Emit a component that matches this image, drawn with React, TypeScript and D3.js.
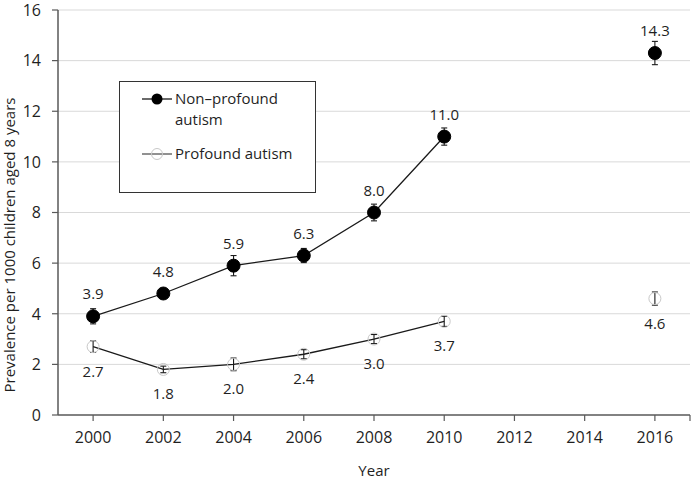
import React, { useEffect, useRef } from "react";
import * as d3 from "d3";

const years = ["2000", "2002", "2004", "2006", "2008", "2010", "2012", "2014", "2016"];
const yTicks = [0, 2, 4, 6, 8, 10, 12, 14, 16];

const nonProfound = [3.9, 4.8, 5.9, 6.3, 8.0, 11.0, null, null, 14.3];
const nonProfoundErr = [0.3, 0.2, 0.4, 0.28, 0.33, 0.34, null, null, 0.46];
const profound = [2.7, 1.8, 2.0, 2.4, 3.0, 3.7, null, null, 4.6];
const profoundErr = [0.23, 0.13, 0.25, 0.18, 0.18, 0.2, null, null, 0.26];

const FONT = "'Open Sans', sans-serif";
const TEXT = "#1f1f1f";

const App = () => {
  const svgRef = useRef<SVGSVGElement | null>(null);

  useEffect(() => {
    const width = 694;
    const height = 482;
    const margin = { top: 10, right: 4, bottom: 67, left: 58 };

    const svg = d3.select(svgRef.current).attr("width", width).attr("height", height);
    svg.selectAll("*").remove();

    const x = d3
      .scaleBand()
      .domain(years)
      .range([margin.left, width - margin.right])
      .padding(0);
    const cx = (d: string) => (x(d) || 0) + x.bandwidth() / 2;

    const y = d3
      .scaleLinear()
      .domain([0, 16])
      .range([height - margin.bottom, margin.top]);

    const x0 = margin.left;
    const x1 = width - margin.right;
    const yBase = y(0);

    // gridlines
    svg
      .append("g")
      .selectAll("line")
      .data(yTicks.filter((t) => t > 0))
      .enter()
      .append("line")
      .attr("x1", x0)
      .attr("x2", x1)
      .attr("y1", (d) => y(d))
      .attr("y2", (d) => y(d))
      .attr("stroke", "#d9d9d9")
      .attr("stroke-width", 1);

    // y axis
    const yAxis = svg.append("g");
    yAxis
      .append("line")
      .attr("x1", x0)
      .attr("x2", x0)
      .attr("y1", y(16))
      .attr("y2", yBase)
      .attr("stroke", "#595959")
      .attr("stroke-width", 1.5);
    yAxis
      .selectAll("line.tick")
      .data(yTicks)
      .enter()
      .append("line")
      .attr("class", "tick")
      .attr("x1", x0 - 6)
      .attr("x2", x0)
      .attr("y1", (d) => y(d))
      .attr("y2", (d) => y(d))
      .attr("stroke", "#595959")
      .attr("stroke-width", 1.2);
    yAxis
      .selectAll("text")
      .data(yTicks)
      .enter()
      .append("text")
      .attr("x", 41)
      .attr("y", (d) => y(d))
      .attr("dy", "0.36em")
      .attr("text-anchor", "end")
      .attr("font-family", FONT)
      .attr("font-size", 16)
      .attr("fill", TEXT)
      .text((d) => d);

    // x axis
    const xAxis = svg.append("g");
    xAxis
      .append("line")
      .attr("x1", x0)
      .attr("x2", x1)
      .attr("y1", yBase)
      .attr("y2", yBase)
      .attr("stroke", "#595959")
      .attr("stroke-width", 1.5);
    xAxis
      .selectAll("line.tick")
      .data([...years.map(cx), x1])
      .enter()
      .append("line")
      .attr("class", "tick")
      .attr("x1", (d) => d)
      .attr("x2", (d) => d)
      .attr("y1", yBase)
      .attr("y2", yBase + 6)
      .attr("stroke", "#595959")
      .attr("stroke-width", 1.2);
    xAxis
      .selectAll("text")
      .data(years)
      .enter()
      .append("text")
      .attr("x", (d) => cx(d))
      .attr("y", 443)
      .attr("text-anchor", "middle")
      .attr("font-family", FONT)
      .attr("font-size", 16)
      .attr("fill", TEXT)
      .text((d) => d);

    // axis titles
    svg
      .append("text")
      .attr("x", (x0 + x1) / 2)
      .attr("y", 476)
      .attr("text-anchor", "middle")
      .attr("font-family", FONT)
      .attr("font-size", 15)
      .attr("fill", TEXT)
      .text("Year");
    svg
      .append("text")
      .attr("transform", `translate(15,245) rotate(-90)`)
      .attr("text-anchor", "middle")
      .attr("font-family", FONT)
      .attr("font-size", 15)
      .attr("fill", TEXT)
      .text("Prevalence per 1000 children aged 8 years");

    const series = [
      { values: profound, err: profoundErr, filled: false, labelDy: 30 },
      { values: nonProfound, err: nonProfoundErr, filled: true, labelDy: -17 },
    ];

    series.forEach((s) => {
      const pts = years.map((yr, i) => ({ yr, v: s.values[i], e: s.err[i] }));
      const valid = pts.filter((p) => p.v != null) as { yr: string; v: number; e: number }[];

      const line = d3
        .line<{ yr: string; v: number | null }>()
        .defined((d) => d.v != null)
        .x((d) => cx(d.yr))
        .y((d) => y(d.v as number));

      svg
        .append("path")
        .datum(pts)
        .attr("d", line)
        .attr("fill", "none")
        .attr("stroke", "#1a1a1a")
        .attr("stroke-width", 1.3);

      const eb = svg.append("g").attr("stroke", "#1a1a1a").attr("stroke-width", 1.1);
      valid.forEach((p) => {
        const px = cx(p.yr);
        eb.append("line")
          .attr("x1", px)
          .attr("x2", px)
          .attr("y1", y(p.v - p.e))
          .attr("y2", y(p.v + p.e));
        [p.v - p.e, p.v + p.e].forEach((v) => {
          eb.append("line")
            .attr("x1", px - 3)
            .attr("x2", px + 3)
            .attr("y1", y(v))
            .attr("y2", y(v));
        });
      });

      svg
        .append("g")
        .selectAll("circle")
        .data(valid)
        .enter()
        .append("circle")
        .attr("cx", (d) => cx(d.yr))
        .attr("cy", (d) => y(d.v))
        .attr("r", s.filled ? 6.5 : 6)
        .attr("fill", s.filled ? "#000" : "none")
        .attr("stroke", s.filled ? "#000" : "#c8c8c8")
        .attr("stroke-width", 1);

      svg
        .append("g")
        .selectAll("text")
        .data(valid)
        .enter()
        .append("text")
        .attr("x", (d) => cx(d.yr))
        .attr("y", (d) => y(d.v) + s.labelDy)
        .attr("text-anchor", "middle")
        .attr("font-family", FONT)
        .attr("font-size", 15)
        .attr("fill", TEXT)
        .text((d) => d.v.toFixed(1));
    });

    // legend
    const lg = svg.append("g");
    lg.append("rect")
      .attr("x", 119.5)
      .attr("y", 81.5)
      .attr("width", 196)
      .attr("height", 111)
      .attr("fill", "#fff")
      .attr("stroke", "#333")
      .attr("stroke-width", 1);
    lg.append("line")
      .attr("x1", 142)
      .attr("x2", 172)
      .attr("y1", 99)
      .attr("y2", 99)
      .attr("stroke", "#1a1a1a")
      .attr("stroke-width", 1.3);
    lg.append("circle").attr("cx", 157).attr("cy", 99).attr("r", 5.5).attr("fill", "#000");
    lg.append("line")
      .attr("x1", 142)
      .attr("x2", 172)
      .attr("y1", 154)
      .attr("y2", 154)
      .attr("stroke", "#555")
      .attr("stroke-width", 1.3);
    lg.append("circle")
      .attr("cx", 157)
      .attr("cy", 154)
      .attr("r", 5.5)
      .attr("fill", "none")
      .attr("stroke", "#c8c8c8");
    const lt = lg
      .append("g")
      .attr("font-family", FONT)
      .attr("font-size", 15)
      .attr("fill", TEXT);
    lt.append("text").attr("x", 175).attr("y", 104).text("Non\u2013profound");
    lt.append("text").attr("x", 175).attr("y", 125).text("autism");
    lt.append("text").attr("x", 175).attr("y", 159).text("Profound autism");
  }, []);

  return <svg ref={svgRef} style={{ position: "absolute", left: 0, top: 0 }}></svg>;
};

export default App;
